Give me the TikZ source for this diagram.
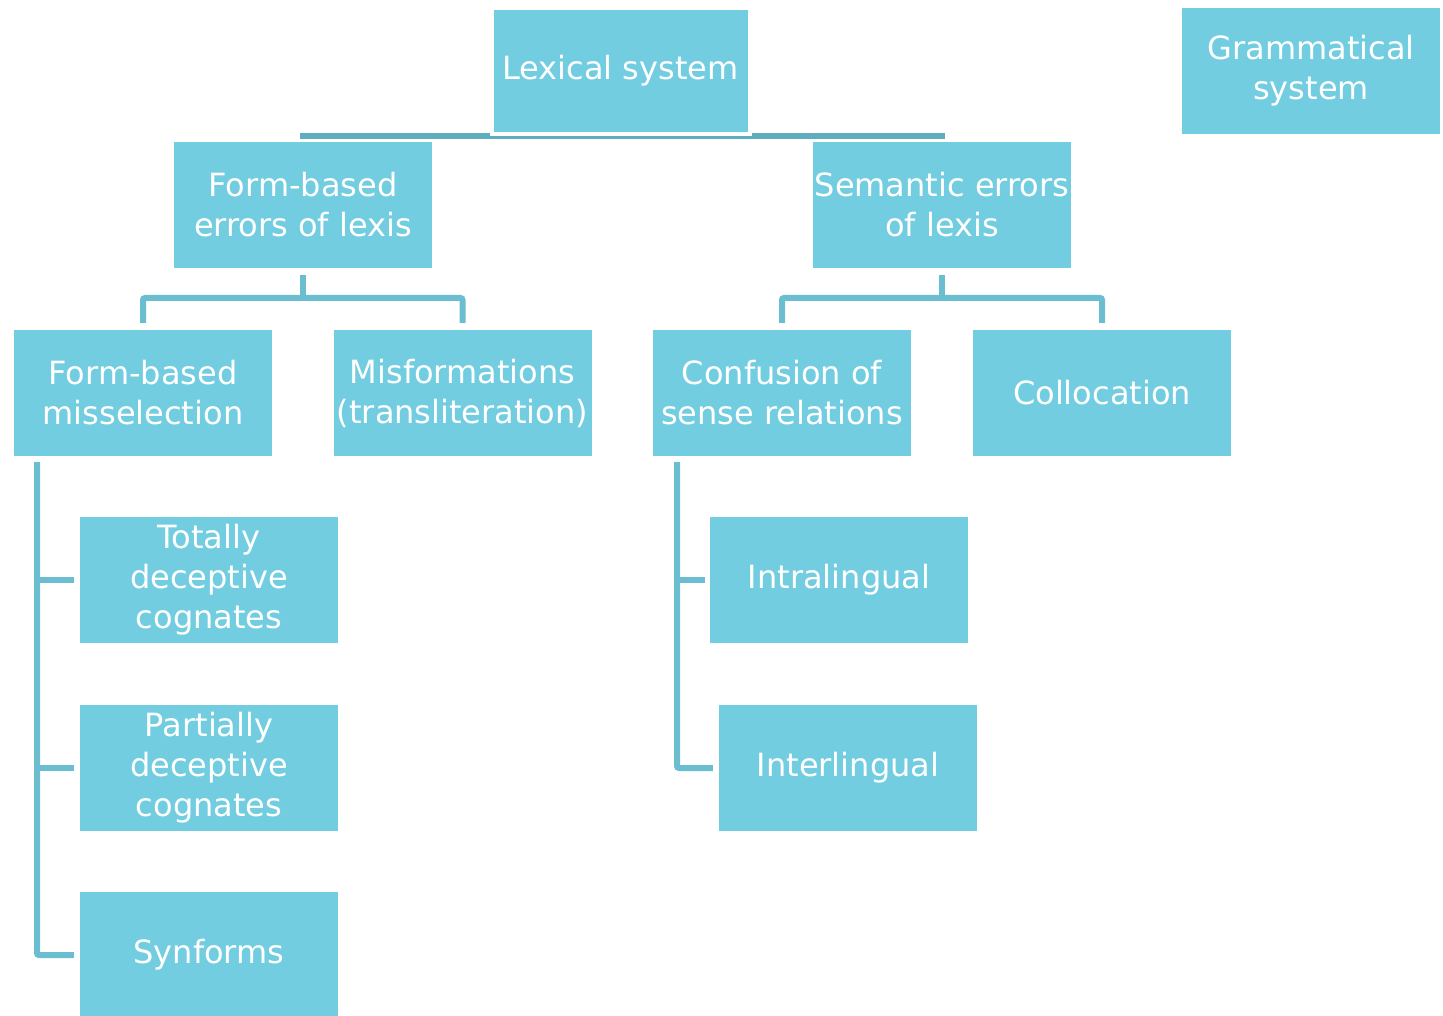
\documentclass[tikz,border=0pt]{standalone}
\usepackage{fontspec}
\setmainfont{DejaVu Sans}
\usetikzlibrary{backgrounds}
\definecolor{boxfill}{HTML}{73CDE1}
\definecolor{linkcol}{HTML}{6ABECF}
\definecolor{toplinkcol}{HTML}{5FAEBF}

\begin{document}
\begin{tikzpicture}[x=1pt, y=-1pt,
		box/.style={fill=boxfill, text=white, minimum width=258pt, minimum height=126pt,
			inner sep=0pt, align=center, font=\fontsize{32}{40}\selectfont},
		link/.style={draw=linkcol, line width=6pt, rounded corners=2pt},
		toplink/.style={draw=toplinkcol, line width=6pt}]
				\useasboundingbox (0,0) rectangle (1443,1016);

				% top row
				\node[box, draw=white, line width=4pt] (lex) at (620.5,71) {Lexical system};
				\node[box] (gram) at (1311,71) {Grammatical\\system};

				% second row
				\node[box] (fbe) at (303,205) {Form-based\\errors of lexis};
				\node[box] (sem) at (942,205) {Semantic errors\\of lexis};

				% third row
				\node[box] (fbm) at (143,393) {Form-based\\misselection};
				\node[box] (mis) at (462.5,393) {Misformations\\(transliteration)};
				\node[box] (con) at (782,393) {Confusion of\\sense relations};
				\node[box] (col) at (1102,393) {Collocation};

				% leaves
				\node[box] (tot) at (209,580) {Totally\\deceptive\\cognates};
				\node[box] (par) at (209,768) {Partially\\deceptive\\cognates};
				\node[box] (syn) at (209,955) {Synforms};
				\node[box] (intra) at (839,580) {Intralingual};
				\node[box] (inter) at (848,768) {Interlingual};

				% connectors
				\begin{scope}[on background layer]
					\draw[toplink] ([xshift=-3pt, yshift=6pt]fbe.north) -- ([xshift=3pt, yshift=6pt]sem.north);
				\end{scope}

				\coordinate (fbj) at (303,298);
				\coordinate (smj) at (942,298);
				\draw[link, shorten <=7pt] (fbe.south) -- (fbj);
				\draw[link, shorten <=7pt, shorten >=7pt] (fbm.north) |- (fbj) -| (mis.north);
				\draw[link, shorten <=7pt] (sem.south) -- (smj);
				\draw[link, shorten <=7pt, shorten >=7pt] (con.north) |- (smj) -| (col.north);

				\coordinate (lbr) at (37,456);
				\coordinate (rbr) at (677,456);
				\draw[link, shorten <=6pt, shorten >=6pt] (lbr) |- (syn.west);
				\draw[link, shorten >=6pt] (tot.west -| lbr) -- (tot.west);
				\draw[link, shorten >=6pt] (par.west -| lbr) -- (par.west);
				\draw[link, shorten <=6pt, shorten >=6pt] (rbr) |- (inter.west);
				\draw[link, shorten >=5pt] (intra.west -| rbr) -- (intra.west);
			\end{tikzpicture}
\end{document}
